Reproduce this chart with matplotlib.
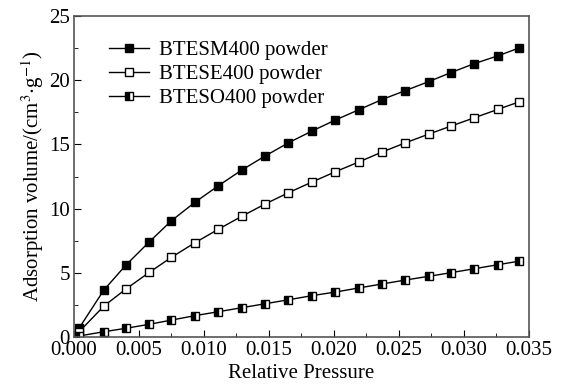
import numpy as np
import matplotlib
matplotlib.use('Agg')
import matplotlib.pyplot as plt
from matplotlib.ticker import MultipleLocator

p = [0.0004, 0.0023, 0.0040, 0.0058, 0.0075, 0.0093, 0.0111, 0.0129, 0.0147, 0.0165,
     0.0183, 0.0201, 0.0219, 0.0237, 0.0255, 0.0273, 0.0290, 0.0308, 0.0326, 0.0342]
btesm = [0.70, 3.66, 5.61, 7.42, 9.06, 10.49, 11.78, 13.0, 14.1, 15.13,
         16.04, 16.9, 17.7, 18.5, 19.2, 19.9, 20.6, 21.3, 21.9, 22.5]
btese = [0.41, 2.41, 3.74, 5.04, 6.21, 7.34, 8.39, 9.40, 10.36, 11.24,
         12.07, 12.87, 13.63, 14.41, 15.13, 15.81, 16.43, 17.08, 17.73, 18.30]
bteso = [0.08, 0.41, 0.68, 0.99, 1.32, 1.66, 1.97, 2.28, 2.59, 2.90,
         3.22, 3.50, 3.82, 4.13, 4.44, 4.73, 5.01, 5.32, 5.63, 5.90]

plt.rcParams['font.family'] = ['Liberation Serif', 'DejaVu Serif']
plt.rcParams['mathtext.fontset'] = 'stix'

fig = plt.figure(figsize=(5.63, 3.92), dpi=100)
ax = fig.add_axes([0.1314, 0.1403, 0.8082, 0.8187])

ax.plot(p, btesm, '-s', color='k', lw=1, ms=6, mfc='k', mec='k', label='BTESM400 powder')
ax.plot(p, btese, '-s', color='k', lw=1, ms=6, mfc='white', mec='k', label='BTESE400 powder')
ax.plot(p, bteso, '-s', color='k', lw=1, ms=6, mfc='k', mec='k', fillstyle='left',
        markerfacecoloralt='white', label='BTESO400 powder')

ax.set_xlim(0, 0.035)
ax.set_ylim(0, 25)
ax.xaxis.set_major_locator(MultipleLocator(0.005))
ax.xaxis.set_minor_locator(MultipleLocator(0.0025))
ax.yaxis.set_major_locator(MultipleLocator(5))
ax.yaxis.set_minor_locator(MultipleLocator(2.5))
ax.xaxis.set_major_formatter(matplotlib.ticker.FormatStrFormatter('%.3f'))
ax.tick_params(which='both', direction='in', labelsize=15, top=False, right=False)
ax.tick_params(which='major', length=5, pad=3)
ax.tick_params(which='minor', length=3)
for s in ax.spines.values():
    s.set_color('#555555')
    s.set_linewidth(1.2)

ax.set_xlabel('Relative Pressure', fontsize=15, labelpad=3)
ax.set_ylabel(r'Adsorption volume/(cm$^{3}$$\cdot$g$^{-1}$)', fontsize=15, labelpad=2)

ax.legend(loc='upper left', frameon=False, fontsize=15, handlelength=1.9,
          handletextpad=0.5, borderaxespad=0.3, labelspacing=0.22,
          bbox_to_anchor=(0.045, 0.97))

fig.savefig('out.png', dpi=100)
